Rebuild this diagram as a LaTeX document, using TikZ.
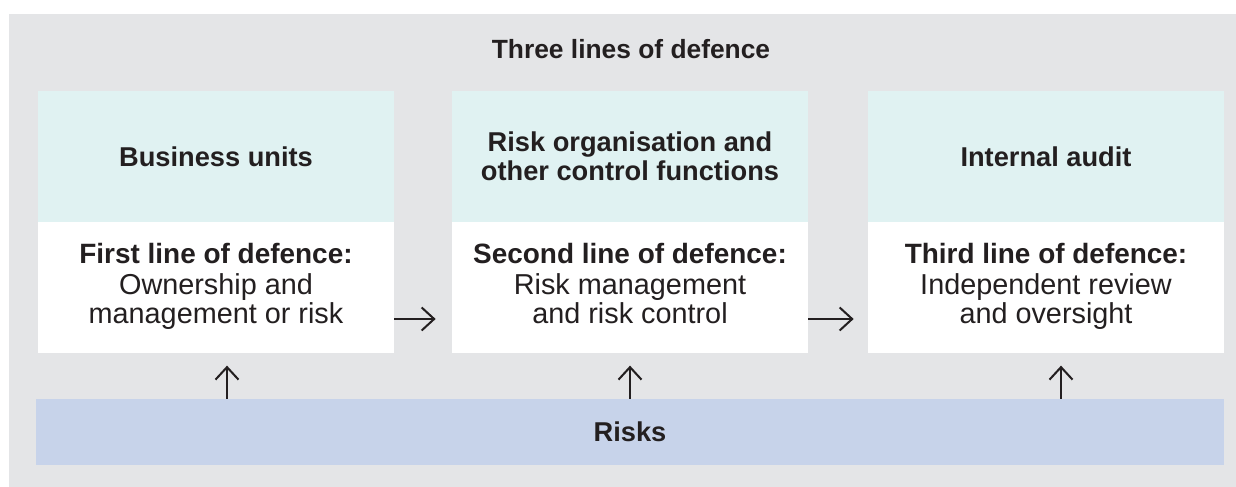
\documentclass[tikz,border=0pt]{standalone}
\usepackage{fontspec}
\setmainfont{Liberation Sans}
\usetikzlibrary{arrows.meta}

\definecolor{bggray}{HTML}{E4E5E7}
\definecolor{headteal}{HTML}{E0F2F2}
\definecolor{riskblue}{HTML}{C7D3EA}
\definecolor{inkdark}{HTML}{231F20}

% bold first line inside the white boxes
\newcommand{\defline}[1]{{\fontsize{15.9}{16.5}\selectfont\bfseries\strut#1}}

\begin{document}
\begin{tikzpicture}[
	head/.style={fill=headteal, minimum width=7.12cm, minimum height=2.62cm, inner sep=0pt, align=center, text=inkdark, font=\fontsize{15.5}{16.5}\selectfont\bfseries},
	body/.style={fill=white, minimum width=7.12cm, minimum height=2.62cm, inner sep=0pt, align=center, text=inkdark, font=\fontsize{16.4}{16.5}\selectfont},
	link/.style={draw=inkdark, line width=1.15pt, -{Straight Barb[length=0.25cm, width=0.46cm]}}
	]

	\useasboundingbox (0,0) rectangle (24.72,9.74);
	\fill[bggray] (0.18,0) rectangle (24.72,9.46);

	\node[text=inkdark, font=\fontsize{15}{16}\selectfont\bfseries] (title) at (12.62,8.76) {Three lines of defence};

	% the three columns
	\node[head] (hfirst) at (4.32,6.61) {Business units};
	\node[body] (bfirst) at (4.32,3.99) {\defline{First line of defence:}\\Ownership and\\management or risk\strut};

	\node[head] (hsecond) at (12.60,6.61) {Risk organisation and\\other control functions};
	\node[body] (bsecond) at (12.60,3.99) {\defline{Second line of defence:}\\Risk management\\and risk control\strut};

	\node[head] (hthird) at (20.92,6.61) {Internal audit};
	\node[body] (bthird) at (20.92,3.99) {\defline{Third line of defence:}\\Independent review\\and oversight\strut};

	\node[fill=riskblue, minimum width=23.76cm, minimum height=1.32cm, inner sep=0pt, text=inkdark, font=\fontsize{15.5}{16.5}\selectfont\bfseries] (risks) at (12.60,1.10) {Risks};

	\draw[link] ([yshift=-0.63cm]bfirst.east) -- ([yshift=-0.63cm, xshift=-0.32cm]bsecond.west);
	\draw[link] ([yshift=-0.63cm]bsecond.east) -- ([yshift=-0.63cm, xshift=-0.28cm]bthird.west);

	\draw[link] (risks.north -| 4.54,0) -- ++(0,0.66);
	\draw[link] (risks.north -| bsecond.south) -- ++(0,0.66);
	\draw[link] (risks.north -| 21.22,0) -- ++(0,0.66);

\end{tikzpicture}
\end{document}
